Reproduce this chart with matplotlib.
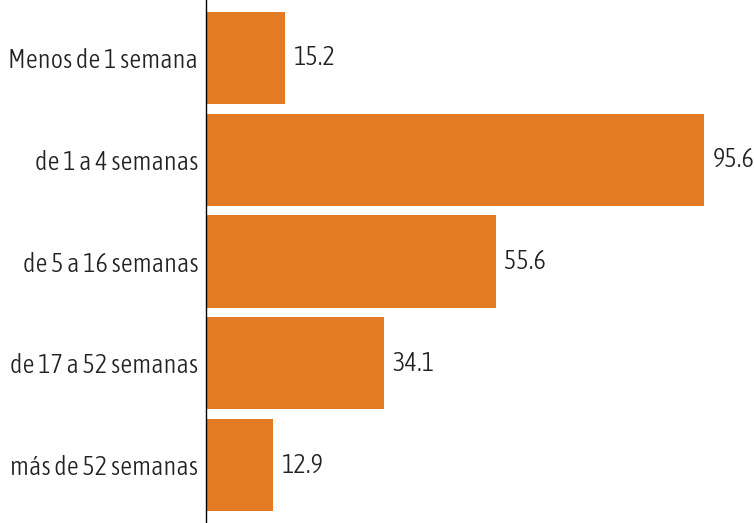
import matplotlib
matplotlib.use("Agg")
import matplotlib.pyplot as plt
from matplotlib import font_manager

# data
categories = ["Menos de 1 semana", "de 1 a 4 semanas", "de 5 a 16 semanas",
              "de 17 a 52 semanas", "más de 52 semanas"]
values = [15.2, 95.6, 55.6, 34.1, 12.9]


def weight_num(w):
    if isinstance(w, int):
        return w
    return font_manager.weight_dict.get(w, 400)


# look for a light / regular condensed font file
cands = []
for f in font_manager.fontManager.ttflist:
    narrow = ("Condensed" in f.name or "Narrow" in f.name
              or f.stretch in ("condensed", "semi-condensed", "extra-condensed")
              or (isinstance(f.stretch, int) and f.stretch < 500))
    if narrow and f.style == "normal" and weight_num(f.weight) <= 400:
        cands.append((abs(weight_num(f.weight) - 300), f.fname, f.name))
cands.sort()
if cands:
    fp = font_manager.FontProperties(fname=cands[0][1])
else:
    fp = font_manager.FontProperties(family="DejaVu Sans")
fp.set_size(19)

fig = plt.figure(figsize=(7.54, 5.23), dpi=100)
ax = fig.add_axes([206 / 754, 0, 548 / 754, 1])

y = list(range(len(categories)))
ax.barh(y, values, height=0.905, color="#E37B24")
for yi, v in zip(y, values):
    ax.text(v + 1.7, yi, f"{v}", va="center", ha="left", fontproperties=fp,
            color="#222222")

ax.set_xlim(0, 105.2)
ax.set_ylim(4.57, -0.57)
ax.set_yticks(y)
ax.set_yticklabels(categories, fontproperties=fp, color="#222222")
ax.tick_params(axis="y", length=0, pad=5.5)
ax.set_xticks([])
for s in ["top", "right", "bottom"]:
    ax.spines[s].set_visible(False)
ax.spines["left"].set_color("black")
ax.spines["left"].set_linewidth(1)

fig.savefig("out.png", dpi=100)
